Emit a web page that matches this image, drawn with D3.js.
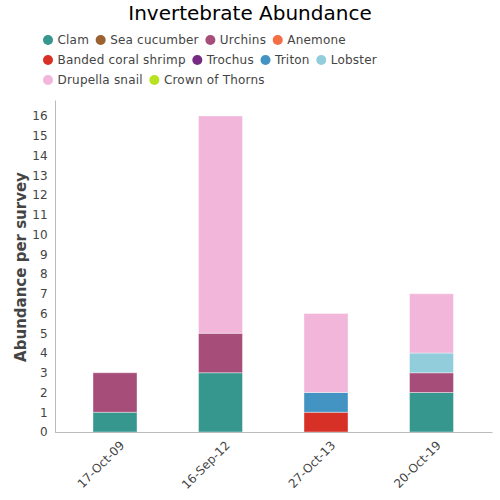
<!DOCTYPE html>
<html>
<head>
<meta charset="utf-8">
<script src="https://cdn.jsdelivr.net/npm/d3@7"></script>
<style>
body{margin:0;background:#fff;}
svg{display:block;font-family:"DejaVu Sans",sans-serif;}
</style>
</head>
<body>
<svg id="chart" width="500" height="500"></svg>
<script>
const categories = ["17-Oct-09","16-Sep-12","27-Oct-13","20-Oct-19"];
const seriesNames = ["Clam","Sea cucumber","Urchins","Anemone","Banded coral shrimp","Trochus","Triton","Lobster","Drupella snail","Crown of Thorns"];
const seriesColors = ["#36978f","#9a6230","#a64d79","#f46d43","#d73027","#762a83","#4393c3","#92cddc","#f1b6da","#b8e11f"];
const clam = [1,3,0,2];
const seaCucumber = [0,0,0,0];
const urchins = [2,2,0,1];
const anemone = [0,0,0,0];
const bandedCoralShrimp = [0,0,1,0];
const trochus = [0,0,0,0];
const triton = [0,0,1,0];
const lobster = [0,0,0,1];
const drupellaSnail = [0,11,4,3];
const crownOfThorns = [0,0,0,0];
const yTicks = [0,1,2,3,4,5,6,7,8,9,10,11,12,13,14,15,16];

const seriesValues = [clam,seaCucumber,urchins,anemone,bandedCoralShrimp,trochus,triton,lobster,drupellaSnail,crownOfThorns];
const rows = categories.map((c,i)=>{
  const r = {cat:c};
  seriesNames.forEach((s,j)=>{ r[s] = seriesValues[j][i]; });
  return r;
});
const stacked = d3.stack().keys(seriesNames)(rows);

const svg = d3.select("#chart");
const color = d3.scaleOrdinal().domain(seriesNames).range(seriesColors);

const p = 1 - 44/105.5;
const x = d3.scaleBand().domain(categories).range([62.25,484.25]).paddingInner(p).paddingOuter(p/2);
const y = d3.scaleLinear().domain([0,16.81]).range([432,100]);

// title
svg.append("text").attr("x",250).attr("y",20).attr("text-anchor","middle")
  .attr("font-size",20).attr("fill","#000").text("Invertebrate Abundance");

// legend
const legendRows = [[0,1,2,3],[4,5,6,7],[8,9]];
legendRows.forEach((row,ri)=>{
  let cx = 48;
  const cy = 40 + ri*20;
  row.forEach(si=>{
    const g = svg.append("g");
    g.append("circle").attr("cx",cx).attr("cy",cy).attr("r",5).attr("fill",seriesColors[si]);
    const t = g.append("text").attr("x",cx+9.5).attr("y",cy+4.3).attr("font-size",12)
      .attr("letter-spacing","0.2px").attr("fill","#444").text(seriesNames[si]);
    const w = t.node().getComputedTextLength();
    cx += 9.5 + w + 11.6;
  });
});

// bars
svg.append("g").selectAll("g").data(stacked).join("g")
  .attr("fill",d=>color(d.key))
  .selectAll("rect").data(d=>d.filter(v=>v[1]-v[0]>0)).join("rect")
  .attr("x",d=>x(d.data.cat))
  .attr("width",x.bandwidth())
  .attr("y",d=>y(d[1]))
  .attr("height",d=>y(d[0])-y(d[1]))
  .attr("stroke","rgba(255,255,255,0.4)").attr("stroke-width",1);

// y axis
const yAxis = svg.append("g").attr("transform","translate(55,0)")
  .call(d3.axisLeft(y).tickValues(yTicks).tickSize(0).tickPadding(7).tickFormat(d3.format("d")));
yAxis.select(".domain").attr("stroke","#bbb");
yAxis.selectAll("text").attr("font-size",12).attr("letter-spacing","0.3px").attr("fill","#444").attr("font-family","DejaVu Sans");

// x axis
const xAxis = svg.append("g").attr("transform","translate(0,432)")
  .call(d3.axisBottom(x).tickSize(0).tickSizeOuter(0));
xAxis.select(".domain").attr("d","M55,0.5H492.5").attr("stroke","#bbb");
xAxis.selectAll("text").attr("font-size",12).attr("fill","#444").attr("font-family","DejaVu Sans")
  .attr("text-anchor","end").attr("transform","translate(5,9) rotate(-45)").attr("dy","0.35em");

// y title
svg.append("text").attr("transform","translate(26,267) rotate(-90)").attr("text-anchor","middle")
  .attr("font-size",15).attr("font-weight","bold").attr("fill","#444").text("Abundance per survey");
</script>
</body>
</html>
